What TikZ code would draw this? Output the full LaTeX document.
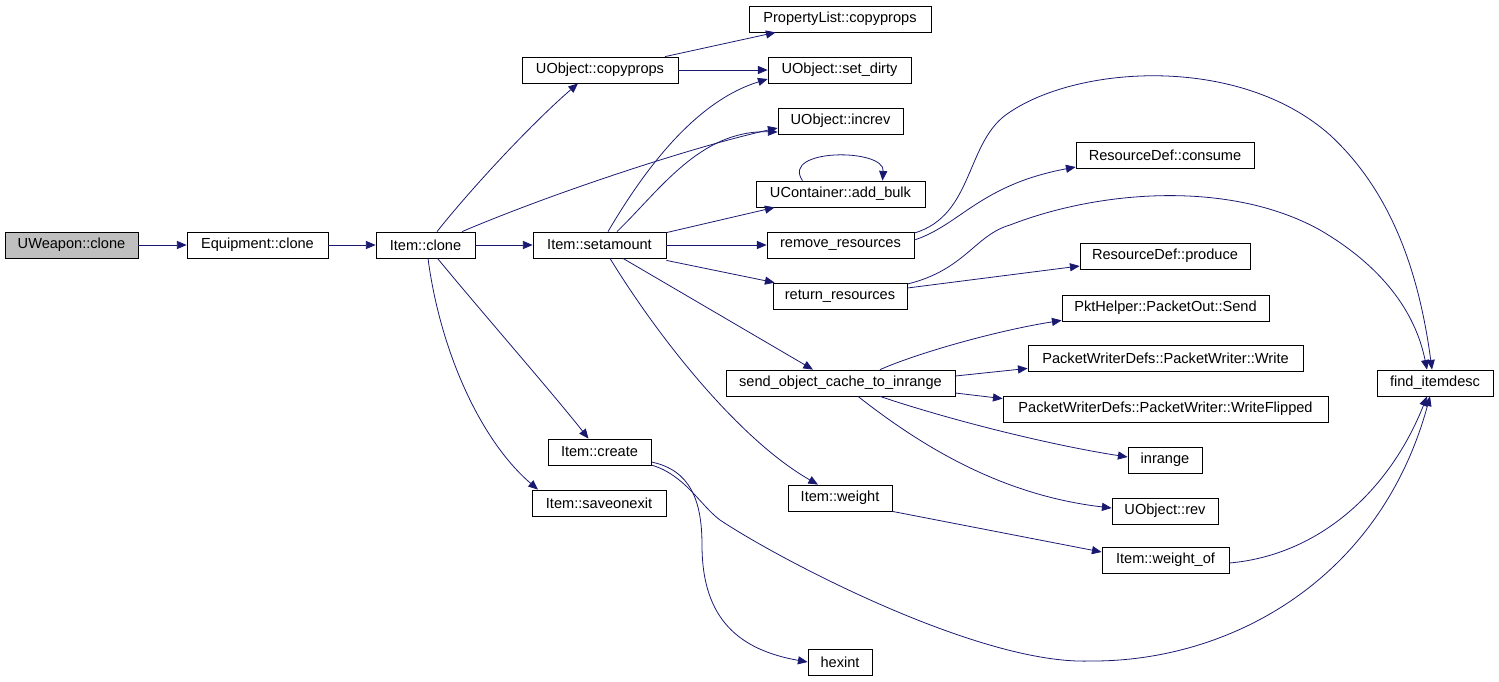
\documentclass[tikz,border=0pt]{standalone}
\usepackage{fontspec}
\setmainfont{Liberation Sans}
\usepackage{tikz}
\usepackage{xcolor}
\usetikzlibrary{arrows.meta, calc}
\definecolor{edgeblue}{HTML}{191970}
\definecolor{rootgray}{HTML}{BFBFBF}

\begin{document}
\begin{tikzpicture}[x=0.02cm, y=-0.02cm,
        >={Triangle[length=5.5pt, width=4.6pt]},
        funcbox/.style={draw=black, line width=0.45pt, fill=white, inner sep=0pt,
            minimum height=0.52cm, font=\fontsize{8.3}{10}\selectfont},
        call/.style={->, edgeblue, line width=0.45pt}]
        % Marco de la figura
        \useasboundingbox (0,0) rectangle (1499,681);

        % Columna 1 y 2
        \node[funcbox, fill=rootgray, minimum width=2.66cm] (uweapon_clone) at (71.5,245) {UWeapon::clone};
        \node[funcbox, minimum width=2.82cm] (equipment_clone) at (257.5,245) {Equipment::clone};
        \node[funcbox, minimum width=1.98cm] (item_clone) at (425.5,245) {Item::clone};

        % Columna 3
        \node[funcbox, minimum width=3.12cm] (uobject_copyprops) at (600,70) {UObject::copyprops};
        \node[funcbox, minimum width=2.66cm] (item_setamount) at (599.5,245) {Item::setamount};
        \node[funcbox, minimum width=2.06cm] (item_create) at (599.5,452) {Item::create};
        \node[funcbox, minimum width=2.68cm] (item_saveonexit) at (599,503) {Item::saveonexit};

        % Columna 4
        \node[funcbox, minimum width=3.64cm] (propertylist_copyprops) at (840,19) {PropertyList::copyprops};
        \node[funcbox, minimum width=2.86cm] (uobject_set_dirty) at (839.5,70) {UObject::set\_dirty};
        \node[funcbox, minimum width=2.5cm] (uobject_increv) at (840.5,121) {UObject::increv};
        \node[funcbox, minimum width=3.38cm] (ucontainer_add_bulk) at (840.5,194) {UContainer::add\_bulk};
        \node[funcbox, minimum width=2.94cm] (remove_resources) at (840.5,245) {remove\_resources};
        \node[funcbox, minimum width=2.68cm] (return_resources) at (840,296) {return\_resources};
        \node[funcbox, minimum width=4.58cm] (send_object_cache) at (840.5,383) {send\_object\_cache\_to\_inrange};
        \node[funcbox, minimum width=2.08cm] (item_weight) at (840,498) {Item::weight};
        \node[funcbox, minimum width=1.28cm] (hexint) at (840,662) {hexint};

        % Columna 5
        \node[funcbox, minimum width=3.56cm] (resourcedef_consume) at (1165,155) {ResourceDef::consume};
        \node[funcbox, minimum width=3.4cm] (resourcedef_produce) at (1165,256) {ResourceDef::produce};
        \node[funcbox, minimum width=4.14cm] (pkthelper_send) at (1165.5,308) {PktHelper::PacketOut::Send};
        \node[funcbox, minimum width=5.5cm] (packetwriter_write) at (1165.5,358) {PacketWriterDefs::PacketWriter::Write};
        \node[funcbox, minimum width=6.5cm] (packetwriter_writeflipped) at (1165.5,409) {PacketWriterDefs::PacketWriter::WriteFlipped};
        \node[funcbox, minimum width=1.48cm] (inrange) at (1165,460) {inrange};
        \node[funcbox, minimum width=2.12cm] (uobject_rev) at (1165,511) {UObject::rev};
        \node[funcbox, minimum width=2.54cm] (item_weight_of) at (1165.5,560) {Item::weight\_of};

        % Columna 6
        \node[funcbox, minimum width=2.32cm] (find_itemdesc) at (1435,383) {find\_itemdesc};

        % Llamadas desde UWeapon::clone e Item::clone
        \draw[call] (uweapon_clone) -- (equipment_clone);
        \draw[call] (equipment_clone) -- (item_clone);
        \draw[call] ($(item_clone.north)+(11.5,0)$) .. controls (470,190) and (530,125) .. ($(uobject_copyprops.south)+(-22,0)$);
        \draw[call] ($(item_clone.north)+(36.5,0)$) .. controls (560,190) and (700,145) .. ($(uobject_increv.west)+(0,7)$);
        \draw[call] (item_clone) -- (item_setamount);
        \draw[call] ($(item_clone.south)+(12,0)$) .. controls (480,310) and (550,390) .. ($(item_create.north)+(-11,0)$);
        \draw[call] ($(item_clone.south)+(2.5,0)$) .. controls (440,350) and (480,440) .. ($(item_saveonexit.north)+(-61,0)$);

        % Llamadas desde UObject::copyprops
        \draw[call] ($(uobject_copyprops.north)+(65,0)$) -- ($(propertylist_copyprops.south west)+(27,0)$);
        \draw[call] (uobject_copyprops) -- (uobject_set_dirty);

        % Llamadas desde Item::setamount
        \draw[call] ($(item_setamount.north)+(8.5,0)$) .. controls (650,160) and (700,100) .. ($(uobject_set_dirty.west)+(0,9)$);
        \draw[call] ($(item_setamount.north)+(17.5,0)$) .. controls (660,190) and (700,130) .. ($(uobject_increv.west)+(0,11)$);
        \draw[call] ($(item_setamount.north east)+(0,1)$) -- ($(ucontainer_add_bulk.south west)+(19,0)$);
        \draw[call] (item_setamount) -- (remove_resources);
        \draw[call] ($(item_setamount.south east)+(0,2)$) -- ($(return_resources.north west)+(2,0)$);
        \draw[call] ($(item_setamount.south)+(23.5,0)$) -- ($(send_object_cache.north)+(-27.5,0)$);
        \draw[call] ($(item_setamount.south)+(10.5,0)$) .. controls (660,340) and (740,440) .. ($(item_weight.north)+(-22,0)$);

        % Llamada recursiva
        \draw[call] ($(ucontainer_add_bulk.north)+(-38,0)$) .. controls (780,148) and (885,148) .. ($(ucontainer_add_bulk.north)+(42,0)$);

        % Recursos
        \draw[call] ($(remove_resources.east)+(0,-5)$) .. controls (960,225) and (980,185) .. ($(resourcedef_consume.west)+(0,12)$);
        \draw[call] ($(remove_resources.east)+(0,-12)$) .. controls (975,215) and (965,140) .. (1010,112)
            .. controls (1080,65) and (1240,55) .. (1330,135)
            .. controls (1395,195) and (1420,280) .. ($(find_itemdesc.north)+(-3,0)$);
        \draw[call] ($(return_resources.east)+(0,-8)$) -- ($(resourcedef_produce.west)+(0,10)$);
        \draw[call] ($(return_resources.east)+(0,-12)$) .. controls (965,270) and (975,235) .. (1010,225)
            .. controls (1100,190) and (1230,180) .. (1320,230)
            .. controls (1380,265) and (1415,310) .. ($(find_itemdesc.north)+(-8,0)$);

        % Llamadas desde send_object_cache_to_inrange
        \draw[call] ($(send_object_cache.north)+(39.5,0)$) .. controls (920,352) and (1000,330) .. ($(pkthelper_send.south west)+(0,-1)$);
        \draw[call] ($(send_object_cache.east)+(0,-7)$) -- ($(packetwriter_write.south west)+(0,-3)$);
        \draw[call] ($(send_object_cache.east)+(0,10)$) -- ($(packetwriter_writeflipped.north west)+(0,3)$);
        \draw[call] ($(send_object_cache.south)+(39.5,0)$) .. controls (950,420) and (1050,445) .. ($(inrange.west)+(0,-3)$);
        \draw[call] ($(send_object_cache.south)+(17.5,0)$) .. controls (920,445) and (1000,495) .. ($(uobject_rev.west)+(0,-3)$);

        % Peso
        \draw[call] (item_weight.south east) -- ($(item_weight_of.west)+(0,-8)$);
        \draw[call] ($(item_weight_of.east)+(0,3)$) .. controls (1320,555) and (1390,490) .. ($(find_itemdesc.south)+(-8,0)$);

        % Llamadas desde Item::create
        \draw[call] ($(item_create.east)+(0,10)$) .. controls (690,470) and (702,500) .. (702,545)
            .. controls (702,620) and (740,650) .. (hexint.west);
        \draw[call] ($(item_create.east)+(0,13)$) .. controls (685,475) and (700,505) .. (720,520)
            .. controls (780,560) and (980,665) .. (1090,661)
            .. controls (1230,662) and (1380,580) .. ($(find_itemdesc.south)+(-5,0)$);
\end{tikzpicture}
\end{document}
